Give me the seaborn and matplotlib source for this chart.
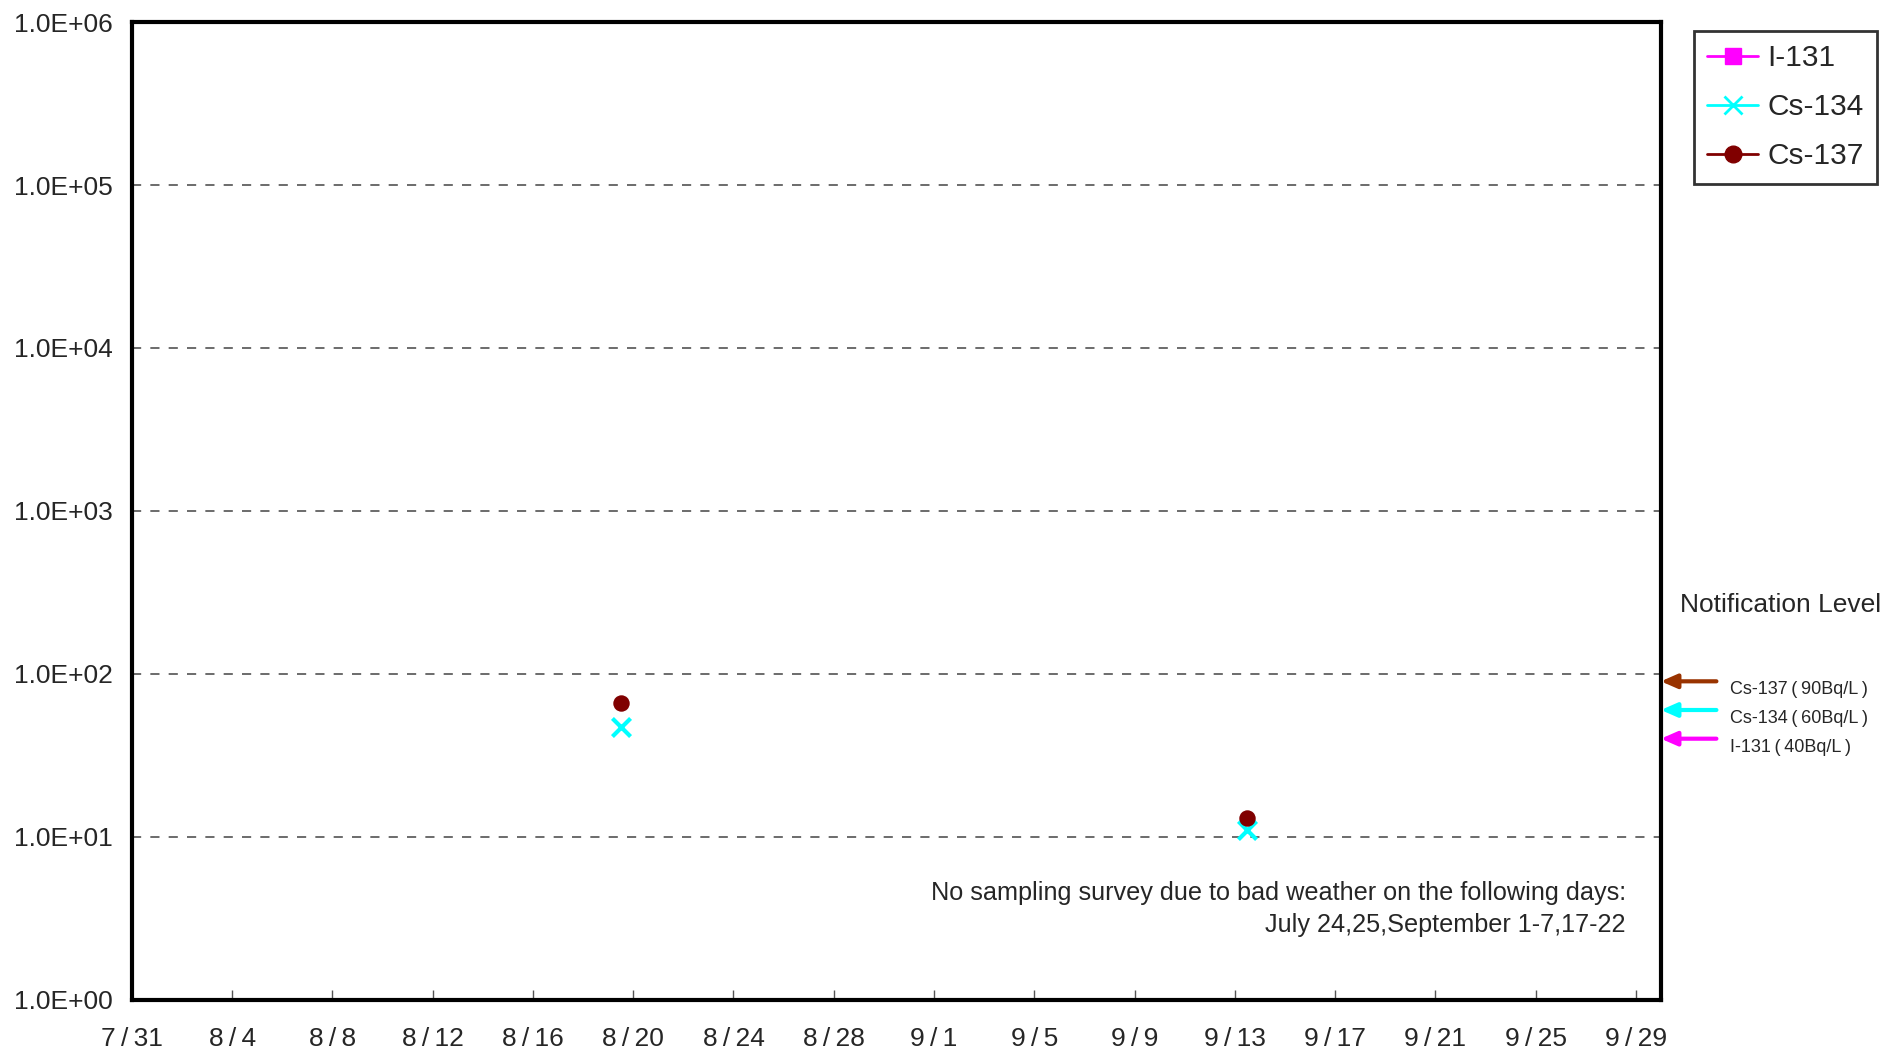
import matplotlib
matplotlib.use("Agg")
import matplotlib.pyplot as plt
import matplotlib.dates as mdates
from matplotlib.lines import Line2D
from matplotlib.ticker import FuncFormatter, FixedLocator
import seaborn as sns
import pandas as pd
import numpy as np

# ---- data ----
sample_dates = ["2011-08-19", "2011-09-13"]
i131 = [np.nan, np.nan]          # not detected
cs134 = [47, 11]
cs137 = [66, 13]
nuclides = ["I-131", "Cs-134", "Cs-137"]
colors = {"I-131": "#FF00FF", "Cs-134": "#00FFFF", "Cs-137": "#800000"}
markers = {"I-131": "s", "Cs-134": "x", "Cs-137": "o"}
levels = {"Cs-137": 90, "Cs-134": 60, "I-131": 40}
level_colors = {"Cs-137": "#993300", "Cs-134": "#00FFFF", "I-131": "#FF00FF"}
y_ticks = [1e0, 1e1, 1e2, 1e3, 1e4, 1e5, 1e6]
note_lines = ["No sampling survey due to bad weather on the following days:",
              "July 24,25,September 1-7,17-22"]

# ---- frame ----
dates = pd.to_datetime(sample_dates) + pd.Timedelta(hours=12)  # centre of day
df = pd.DataFrame({"date": list(dates) * 3,
                   "nuclide": sum([[n] * len(dates) for n in nuclides], []),
                   "value": i131 + cs134 + cs137})
df_plot = df.dropna()

sns.set_theme(style="white")
plt.rcParams["font.family"] = ["Liberation Sans", "DejaVu Sans"]

fig = plt.figure(figsize=(19.04, 10.54), dpi=100)
ax = fig.add_axes([0.0693, 0.0515, 0.8030, 0.9275])

for n in ["Cs-134", "Cs-137"]:
    sub = df_plot[df_plot["nuclide"] == n]
    if n == "Cs-134":
        sns.scatterplot(data=sub, x="date", y="value", ax=ax, marker="x",
                        color=colors[n], s=170, linewidth=3, legend=False, zorder=3)
    else:
        sns.scatterplot(data=sub, x="date", y="value", ax=ax, marker="o",
                        color=colors[n], s=140, edgecolor=colors[n], linewidth=0,
                        legend=False, zorder=4)

ax.set_yscale("log")
ax.set_ylim(1, 1e6)
ax.set_xlim(pd.Timestamp("2011-07-31"), pd.Timestamp("2011-09-30"))
ax.yaxis.set_major_locator(FixedLocator(y_ticks))
ax.yaxis.set_minor_locator(FixedLocator([]))
ax.yaxis.set_major_formatter(FuncFormatter(lambda v, p: f"{v:.1E}"))
for v in y_ticks[1:-1]:
    ax.axhline(v, color="#444444", lw=1.1, ls=(0, (6, 6)), zorder=1)

xt = pd.date_range("2011-07-31", "2011-09-29", freq="4D")
ax.set_xticks(xt)
ax.xaxis.set_major_formatter(FuncFormatter(
    lambda v, p: f"{mdates.num2date(v).month}\u2009/\u2009{mdates.num2date(v).day}"))
ax.tick_params(axis="x", direction="in", length=7, width=1, color="#555555",
               labelsize=19, pad=20, bottom=True)
ax.tick_params(axis="y", length=0, labelsize=19, pad=14)
ax.set_xlabel("")
ax.set_ylabel("")
for s in ax.spines.values():
    s.set_linewidth(3)
    s.set_color("black")

# legend
handles = [Line2D([0], [0], color=colors[n], marker=markers[n],
                  markersize=12 if n != "Cs-134" else 13,
                  markeredgewidth=2 if n == "Cs-134" else 1,
                  lw=2, markerfacecolor=colors[n], markeredgecolor=colors[n]) for n in nuclides]
leg = fig.legend(handles, nuclides, loc="upper left", bbox_to_anchor=(0.8897, 0.9706),
                 fontsize=21.5, frameon=True, fancybox=False, edgecolor="black",
                 handlelength=1.7, handletextpad=0.3, labelspacing=0.70,
                 borderpad=0.45, borderaxespad=0)
leg.get_frame().set_linewidth(2)

# notification levels
ax.annotate("Notification Level", xy=(1.0, 266), xycoords=("axes fraction", "data"),
            xytext=(14, 0), textcoords="offset points", fontsize=19,
            ha="left", va="center", annotation_clip=False)
for n in ["Cs-137", "Cs-134", "I-131"]:
    ax.annotate("", xy=(1.0, levels[n]), xycoords=("axes fraction", "data"),
                xytext=(40, 0), textcoords="offset points",
                arrowprops=dict(arrowstyle="-|>,head_length=0.8,head_width=0.35",
                                color=level_colors[n], lw=3, shrinkA=0, shrinkB=0),
                annotation_clip=False)
    ax.annotate(f"{n}\u2009(\u2009{levels[n]}Bq/L\u2009)", xy=(1.0, levels[n]),
                xycoords=("axes fraction", "data"),
                xytext=(50, -6), textcoords="offset points", fontsize=13,
                ha="left", va="center", annotation_clip=False)

ax.text(0.977, 0.093, note_lines[0] + "\n" + note_lines[1], transform=ax.transAxes,
        ha="right", va="center", fontsize=18.2, linespacing=1.42, multialignment="right")

fig.savefig("out.png", dpi=100)
